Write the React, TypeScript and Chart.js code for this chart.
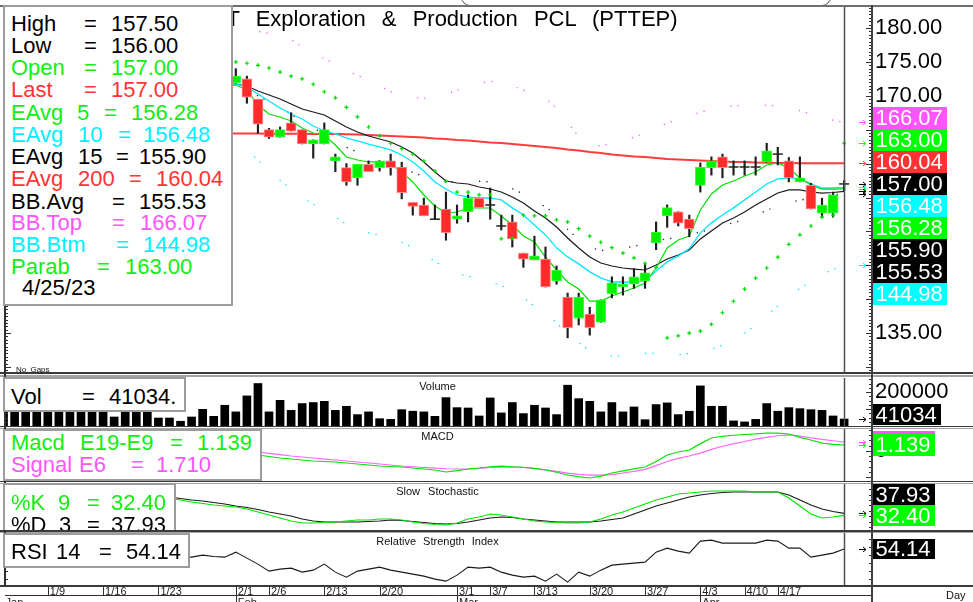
import React, { useEffect, useRef } from 'react';
import { Chart, registerables } from 'chart.js';

Chart.register(...registerables);

const FONT = '"Liberation Sans", Arial, Helvetica, sans-serif';
const GREEN = '#00ff00';
const RED = '#ff3333';
const CYAN = '#00ffff';
const MAGENTA = '#ff55ff';
const BLACK = '#000000';

// ---------------- data: trading days 1/3/23 .. 4/25/23 ----------------
const lastDate = '4/25/23';
const title = 'PTT Exploration & Production PCL (PTTEP)';

const open = [
  172.5, 174.0, 175.5, 176.5, 175.0, 176.0, 177.5, 176.0, 174.5, 175.0,
  173.5, 172.0, 173.0, 174.5, 173.0, 171.5, 172.0, 170.5, 171.0, 172.5,
  171.0,
  171.9, 172.5, 169.5, 165.0, 163.9, 166.0, 165.0, 162.9, 162.9, 160.4,
  159.4, 157.9, 159.9, 159.4, 160.4, 159.5, 154.3, 153.9, 151.8, 153.3,
  151.8, 152.9, 154.9, 153.9, 150.8, 151.4, 146.8, 145.8, 145.9, 142.7,
  140.3, 137.2, 137.8, 136.6, 140.8, 141.8, 142.2, 142.7, 148.3, 152.3,
  152.9, 151.8, 156.8, 159.4, 161.0, 159.5, 159.5, 159.5, 160.2, 161.4,
  160.4, 157.3, 156.8, 152.7, 152.7, 157.0,
];
const high = [
  174.5, 176.0, 177.0, 177.0, 176.5, 178.0, 178.0, 176.5, 175.5, 175.5,
  174.0, 173.5, 175.0, 175.0, 173.5, 172.5, 172.5, 171.5, 173.0, 173.0,
  172.0,
  174.0, 172.9, 169.5, 165.2, 165.4, 167.5, 165.0, 163.5, 166.0, 161.4,
  160.0, 159.9, 160.4, 160.4, 161.4, 160.2, 154.3, 154.9, 153.9, 155.8,
  153.9, 155.4, 154.9, 156.4, 152.4, 152.4, 146.8, 149.3, 147.7, 144.9,
  140.9, 140.9, 138.8, 139.9, 143.3, 143.3, 144.5, 145.2, 151.4, 153.9,
  152.9, 152.4, 160.1, 161.0, 161.4, 160.4, 160.4, 161.0, 163.0, 162.4,
  160.9, 161.0, 157.1, 154.9, 155.8, 157.5,
];
const low = [
  172.0, 173.5, 175.0, 174.5, 174.5, 175.5, 175.5, 174.0, 174.0, 173.0,
  171.5, 171.5, 172.5, 172.5, 171.0, 171.0, 170.0, 170.0, 170.5, 170.5,
  170.5,
  171.9, 168.9, 164.5, 163.7, 163.9, 164.8, 162.9, 160.8, 162.9, 158.8,
  156.8, 156.8, 158.8, 158.9, 158.3, 154.8, 152.4, 152.3, 151.8, 148.7,
  151.2, 151.4, 153.5, 151.8, 150.2, 147.7, 144.7, 145.8, 141.8, 142.2,
  134.3, 136.2, 134.7, 136.6, 140.2, 140.6, 141.6, 141.6, 147.3, 150.6,
  150.8, 149.2, 155.8, 158.3, 157.9, 158.3, 158.3, 158.3, 160.2, 159.8,
  157.3, 157.3, 153.3, 152.1, 152.1, 156.0,
];
const close = [
  174.0, 175.5, 176.5, 175.0, 176.0, 177.5, 176.0, 174.5, 175.0, 173.5,
  172.0, 173.0, 174.5, 173.0, 171.5, 172.0, 170.5, 171.0, 172.5, 171.0,
  171.5,
  172.9, 169.8, 165.8, 163.9, 165.0, 164.8, 162.9, 163.5, 165.0, 161.0,
  157.3, 159.9, 158.8, 160.4, 159.4, 155.7, 153.7, 152.3, 151.8, 149.8,
  152.3, 154.9, 153.5, 153.9, 150.8, 148.9, 145.9, 146.4, 141.8, 144.3,
  135.8, 140.3, 135.8, 139.9, 142.4, 142.2, 143.3, 143.9, 149.9, 153.5,
  151.2, 150.4, 159.5, 160.4, 159.4, 159.5, 159.5, 159.5, 161.9, 161.4,
  157.9, 157.9, 153.3, 153.9, 155.4, 157.0,
];
const volume = [
  110000, 95000, 100000, 105000, 98000, 102000, 108000, 96000, 100000, 90000,
  53000, 92000, 88000, 85000, 47000, 47000, 28000, 53000, 98000, 57000,
  122000,
  83000, 177000, 250000, 83000, 151000, 92000, 132000, 138000, 145000, 92000,
  116000, 67000, 83000, 43000, 39000, 96000, 87000, 83000, 57000, 167000,
  108000, 106000, 59000, 165000, 77000, 138000, 73000, 122000, 106000, 67000,
  240000, 161000, 145000, 83000, 138000, 83000, 112000, 37000, 126000, 136000,
  67000, 87000, 236000, 116000, 116000, 30000, 24000, 39000, 132000, 87000,
  108000, 102000, 96000, 92000, 59000, 41034,
];
const ema5 = [
  null, null, null, null, null, null, null, null, null, null,
  null, null, null, null, null, null, null, null, null, null,
  171.4,
  171.59, 170.86, 168.64, 167.32, 166.87, 166.28, 165.25, 164.51, 164.22, 162.74,
  160.97, 160.53, 160.24, 160.24, 159.94, 158.76, 157.29, 155.37, 153.75, 152.71,
  152.86, 153.45, 153.45, 153.45, 152.27, 150.94, 149.32, 148.44, 146.22, 144.31,
  142.54, 141.5, 139.73, 139.73, 140.47, 141.06, 141.65, 142.39, 144.6, 147.55,
  148.73, 149.32, 153.16, 155.52, 156.84, 157.43, 158.17, 158.76, 159.79, 160.09,
  159.35, 157.88, 156.84, 156.25, 156.25, 156.28,
];
const ema10 = [
  null, null, null, null, null, null, null, null, null, null,
  null, null, null, null, null, null, null, null, null, null,
  171.9,
  171.74, 171.3, 170.27, 169.23, 168.2, 167.32, 166.58, 165.55, 164.81, 164.37,
  163.78, 163.34, 162.89, 162.45, 162.01, 161.27, 160.24, 158.91, 157.29, 156.25,
  155.37, 155.08, 154.93, 154.93, 154.65, 153.47, 152.43, 150.96, 149.48, 147.57,
  146.24, 145.21, 144.03, 143.14, 142.54, 142.54, 142.54, 142.69, 144.17, 145.5,
  146.39, 147.42, 149.79, 151.26, 152.43, 153.47, 154.65, 155.81, 157.0, 157.74,
  157.89, 157.74, 157.0, 156.4, 156.4, 156.48,
];
const ema15 = [
  null, null, null, null, null, null, null, null, null, null,
  null, null, null, null, null, null, null, null, null, null,
  171.9,
  171.74, 171.45, 170.71, 170.12, 169.53, 168.79, 168.05, 167.61, 167.17, 166.28,
  165.4, 164.66, 164.07, 163.63, 163.19, 162.45, 161.56, 160.24, 158.76, 157.43,
  157.14, 156.99, 156.55, 156.25, 155.81, 155.07, 154.19, 153.01, 151.98, 150.65,
  149.03, 147.55, 146.22, 145.34, 144.9, 144.6, 144.45, 144.31, 145.04, 145.93,
  146.52, 147.26, 148.89, 150.06, 151.24, 151.98, 152.86, 153.89, 154.78, 155.66,
  156.11, 156.11, 155.81, 155.66, 155.74, 155.9,
];
const ema200 = [
  null, null, null, null, null, null, null, null, null, null,
  null, null, null, null, null, null, null, null, null, null,
  164.46,
  164.45, 164.44, 164.43, 164.42, 164.41, 164.4, 164.39, 164.38, 164.37, 164.35,
  164.32, 164.29, 164.22, 164.14, 164.07, 164.0, 163.92, 163.85, 163.7, 163.63,
  163.48, 163.41, 163.26, 163.11, 163.04, 162.89, 162.74, 162.6, 162.45, 162.3,
  162.08, 161.93, 161.71, 161.56, 161.34, 161.19, 161.04, 160.97, 160.83, 160.68,
  160.6, 160.53, 160.46, 160.38, 160.31, 160.24, 160.22, 160.16, 160.14, 160.09,
  160.08, 160.07, 160.06, 160.05, 160.04, 160.04,
];
const bbTop = [
  null, null, null, null, null, null, null, null, null, null,
  null, null, null, null, null, null, null, null, null, null,
  180.0,
  180.0, 179.8, 179.5, 179.2, 179.0, 178.3, 177.2, 176.3, 175.5, 174.6,
  173.8, 173.0, 172.3, 171.5, 170.6, 170.0, 169.8, 169.6, 169.8, 170.2,
  170.8, 171.3, 171.8, 172.1, 172.3, 171.5, 170.8, 170.2, 169.6, 168.2,
  166.0, 164.0, 162.8, 162.6, 163.0, 163.4, 163.9, 164.5, 165.2, 166.0,
  166.5, 167.0, 167.6, 168.0, 168.3, 168.5, 168.6, 168.6, 168.6, 168.5,
  168.2, 167.8, 167.3, 166.8, 166.4, 166.07,
];
const bbAvg = [
  null, null, null, null, null, null, null, null, null, null,
  null, null, null, null, null, null, null, null, null, null,
  171.8,
  171.5, 170.9, 170.0, 169.1, 168.3, 167.3, 166.1, 165.2, 164.4, 163.4,
  162.4, 161.7, 161.0, 160.4, 159.8, 159.2, 158.7, 158.1, 157.7, 157.3,
  157.3, 157.3, 157.4, 157.3, 157.1, 156.3, 155.5, 154.6, 153.6, 152.4,
  150.3, 148.8, 147.6, 147.2, 147.3, 147.5, 147.8, 148.2, 148.6, 148.9,
  149.1, 149.5, 149.9, 150.3, 150.8, 151.3, 151.8, 152.4, 153.1, 153.8,
  154.3, 154.6, 154.9, 155.2, 155.4, 155.53,
];
const bbBtm = [
  null, null, null, null, null, null, null, null, null, null,
  null, null, null, null, null, null, null, null, null, null,
  163.6,
  163.0, 162.0, 160.5, 159.0, 157.5, 156.3, 155.0, 154.0, 153.2, 152.2,
  151.0, 150.4, 149.8, 149.4, 149.0, 148.4, 147.6, 146.6, 145.6, 144.5,
  143.8, 143.4, 143.0, 142.6, 142.0, 141.2, 140.2, 139.0, 137.6, 136.6,
  134.6, 133.6, 132.4, 131.8, 131.6, 131.6, 131.8, 132.0, 132.0, 131.8,
  131.8, 132.0, 132.2, 132.6, 133.2, 134.0, 135.0, 136.2, 137.6, 139.0,
  140.4, 141.6, 142.6, 143.6, 144.4, 144.98,
];
const sar = [
  null, null, null, null, null, null, null, null, null, null,
  null, null, null, null, null, null, null, null, null, null,
  null,
  175.0, 174.8, 174.5, 174.1, 173.5, 172.9, 172.5, 171.7, 170.6, 169.7,
  168.3, 166.9, 165.4, 164.1, 163.0, 162.2, 161.4, 160.4, 158.9, 157.4,
  155.8, 155.8, 155.4, 155.4, 148.9, 149.0, 152.4, 152.3, 152.3, 151.7,
  151.4, 150.4, 149.3, 148.4, 147.6, 146.8, 146.1, 145.3, 144.7, 134.3,
  134.6, 135.0, 135.3, 136.3, 138.0, 139.7, 141.5, 143.1, 144.6, 146.2,
  148.1, 149.5, 150.8, 152.1, 152.4, 163.0,
];
const macd = [
  null, null, null, null, null, null, null, null, null, null,
  null, null, null, null, null, null, null, null, null, null,
  0.4, 0.0,
  -0.39, -0.77, -1.05, -1.34, -1.53, -1.72, -1.91, -2.0, -2.1,
  -2.29, -2.48, -2.67, -2.86, -2.96, -3.05, -3.24, -3.43, -3.62, -4.0,
  -3.75, -3.43, -3.24, -3.0, -2.9, -3.0, -3.1, -3.3, -3.62, -4.05,
  -4.58, -4.9, -5.15, -4.8, -4.2, -3.8, -3.4, -3.05, -2.0, -0.77,
  -0.2, 0.19, 1.4, 2.47, 2.8, 3.0, 3.14, 3.25, 3.42, 3.4,
  3.23, 2.6, 2.09, 1.5, 1.25, 1.139,
];
const signal = [
  null, null, null, null, null, null, null, null, null, null,
  null, null, null, null, null, null, null, null, null, null,
  0.45, 0.25,
  0.0, -0.19, -0.45, -0.7, -0.96, -1.15, -1.34, -1.55, -1.72,
  -1.91, -2.1, -2.29, -2.48, -2.67, -2.86, -3.0, -3.15, -3.28, -3.38,
  -3.43, -3.4, -3.3, -3.15, -3.08, -3.05, -3.15, -3.35, -3.6, -3.9,
  -4.2, -4.45, -4.58, -4.6, -4.5, -4.2, -3.9, -3.5, -2.8, -2.0,
  -1.4, -0.95, -0.4, 0.3, 0.9, 1.35, 1.8, 2.25, 2.6, 2.9,
  3.05, 2.85, 2.5, 2.2, 1.95, 1.71,
];
const stochK = [
  null, null, null, null, null, null, null, null, null, null,
  null, null, null, null,
  84.0, 80.6, 75.0, 69.4, 65.3, 61.1, 58.3,
  55.6, 50.0, 41.7, 33.3, 25.0, 16.7, 11.1, 11.1, 12.5, 13.9,
  16.7, 19.4, 19.4, 22.2, 22.2, 19.4, 13.9, 9.7, 6.9, 5.6,
  11.1, 22.2, 27.8, 36.1, 33.3, 27.8, 22.2, 16.7, 13.9, 12.5,
  11.1, 11.1, 13.9, 22.2, 33.3, 41.7, 52.8, 63.9, 75.0, 83.3,
  91.7, 94.4, 97.2, 100.0, 100.0, 100.0, 100.0, 97.2, 97.2, 97.2,
  80.6, 58.3, 36.1, 25.0, 27.8, 32.4,
];
const stochD = [
  null, null, null, null, null, null, null, null, null, null,
  null, null, null, null,
  86.0, 83.3, 79.2, 75.0, 72.2, 68.1, 63.9,
  58.3, 54.2, 48.6, 41.7, 36.1, 30.6, 22.2, 16.7, 13.9, 13.9,
  13.9, 13.9, 15.3, 16.7, 19.4, 18.1, 15.3, 12.5, 9.7, 8.3,
  9.7, 13.9, 19.4, 25.0, 27.8, 26.4, 22.2, 19.4, 16.7, 13.9,
  13.9, 13.9, 13.9, 16.7, 20.8, 25.0, 36.1, 47.2, 58.3, 66.7,
  75.0, 83.3, 88.9, 93.1, 95.8, 97.2, 97.2, 97.2, 97.2, 97.2,
  88.9, 75.0, 61.1, 50.0, 43.1, 37.93,
];
const rsi = [
  null, null, null, null, null, null, null, null, null, null,
  null, null, null, null, null,
  46.0, 46.0, 46.0, 48.0, 46.6, 46.0,
  51.0, 45.0, 39.0, 32.0, 34.0, 35.0, 31.0, 33.0, 39.0, 31.0,
  26.0, 32.0, 34.0, 36.0, 33.0, 31.0, 29.0, 27.0, 24.0, 22.0,
  28.0, 36.0, 35.0, 36.0, 31.0, 28.0, 26.0, 27.0, 22.0, 29.0,
  21.0, 31.0, 27.0, 33.0, 38.0, 39.0, 40.0, 41.0, 51.0, 55.0,
  52.0, 50.0, 62.0, 63.0, 60.0, 60.0, 60.0, 60.0, 63.0, 62.0,
  55.0, 55.0, 46.0, 48.0, 50.0, 54.14,
];

// tick labels
const priceTicks = [135, 140, 145, 150, 155, 160, 165, 170, 175, 180];
const volTicks = [200000];
const macdTicks = [0];
const stochTicks = [50];
const rsiTicks = [50];
const dateTickIdx = [4, 9, 14, 21, 24, 29, 34, 41, 44, 48, 53, 58, 63, 67, 70];
const dateTickLabels = ['1/9', '1/16', '1/23', '2/1', '2/6', '2/13', '2/20', '3/1', '3/7', '3/13', '3/20', '3/27', '4/3', '4/10', '4/17'];
const monthIdx = [0, 21, 41, 63];
const monthLabels = ['Jan', 'Feb', 'Mar', 'Apr'];

// ---------------- layout constants ----------------
const L = close.length - 1;
const X_MIN = 0.13;
const X_MAX = 78.52;
const W = 973;

const idx = close.map((_, i) => i);
const pts = (arr: (number | null)[]) => arr.map((v, i) => ({ x: i, y: v }));

type Box = { v: number; text: string; bg: string; anchor?: boolean };
type Decor = {
  today: number;
  minorStep?: number;
  majorStep?: number;
  boxes?: Box[];
  boxH?: number;
  stack?: boolean;
  dateAxis?: boolean;
};

function makeDecor(cfg: Decor) {
  return {
    id: 'decor',
    afterDraw(chart: any) {
      const { ctx, chartArea: ca, scales } = chart;
      const xs = scales.x;
      const ys = scales.y;
      ctx.save();
      if (cfg.minorStep) {
        const st = cfg.minorStep;
        const first = Math.ceil(ys.min / st);
        const last = Math.floor(ys.max / st);
        ctx.strokeStyle = '#303030';
        ctx.lineWidth = 1;
        ctx.beginPath();
        for (let k = first; k <= last; k++) {
          const v = k * st;
          const py = Math.round(ys.getPixelForValue(v)) + 0.5;
          const major = cfg.majorStep ? Math.abs(v / cfg.majorStep - Math.round(v / cfg.majorStep)) < 1e-6 : false;
          const len = major ? 6 : 3;
          ctx.moveTo(ca.right - len, py);
          ctx.lineTo(ca.right, py);
          ctx.moveTo(ca.left, py);
          ctx.lineTo(ca.left + len, py);
        }
        ctx.stroke();
      }
      const tx = Math.round(xs.getPixelForValue(cfg.today)) + 0.5;
      ctx.strokeStyle = '#505050';
      ctx.lineWidth = 1.5;
      ctx.beginPath();
      ctx.moveTo(tx, ca.top);
      ctx.lineTo(tx, ca.bottom);
      ctx.stroke();
      if (cfg.dateAxis) {
        const yb = ca.bottom;
        ctx.strokeStyle = '#303030';
        ctx.lineWidth = 1;
        ctx.beginPath();
        ctx.moveTo(ca.left, yb + 10.5);
        ctx.lineTo(ca.right, yb + 10.5);
        const all = Array.from(new Set([...dateTickIdx, ...monthIdx]));
        for (const i of all) {
          if (i < X_MIN) continue;
          const px = Math.round(xs.getPixelForValue(i)) + 0.5;
          const long = monthIdx.includes(i);
          ctx.moveTo(px, yb);
          ctx.lineTo(px, yb + (long ? 18 : 11));
        }
        ctx.stroke();
      }
      if (cfg.boxes && cfg.boxes.length) {
        const h = cfg.boxH || 21;
        const lo = ca.top + h / 2;
        const hi = ca.bottom - h / 2 - 1;
        let items = cfg.boxes.map((b) => ({ ...b, ideal: ys.getPixelForValue(b.v), y: 0 }));
        if (cfg.stack) {
          items = items.slice().sort((a, b) => b.v - a.v);
          let ai = items.findIndex((b) => b.anchor);
          if (ai < 0) ai = 0;
          items[ai].y = Math.min(Math.max(items[ai].ideal, lo), hi);
          for (let i = ai - 1; i >= 0; i--) items[i].y = Math.min(items[i].ideal, items[i + 1].y - h);
          for (let i = ai + 1; i < items.length; i++) items[i].y = Math.max(items[i].ideal, items[i - 1].y + h);
        } else {
          items.forEach((b) => (b.y = Math.min(Math.max(b.ideal, lo), hi)));
        }
        ctx.lineWidth = 1;
        for (const b of items) {
          const ay = Math.round(b.ideal) + 0.5;
          ctx.strokeStyle = b.bg;
          ctx.beginPath();
          ctx.moveTo(ca.right - 13, ay);
          ctx.lineTo(ca.right - 6, ay);
          ctx.moveTo(ca.right - 9, ay - 2.5);
          ctx.lineTo(ca.right - 6, ay);
          ctx.lineTo(ca.right - 9, ay + 2.5);
          ctx.stroke();
        }
        ctx.font = `22px ${FONT}`;
        ctx.textBaseline = 'middle';
        ctx.textAlign = 'left';
        for (const b of items) {
          const tw = ctx.measureText(b.text).width;
          const top = Math.round(b.y - h / 2);
          ctx.fillStyle = b.bg;
          ctx.fillRect(ca.right + 1, top, Math.ceil(tw + 6), h);
          ctx.fillStyle = '#ffffff';
          ctx.fillText(b.text, ca.right + 3.5, top + h / 2 + 1);
        }
      }
      ctx.restore();
    },
  };
}

function baseOptions(yMin: number, yMax: number, yTicks: number[], fmt: (v: number) => string, withDates = false) {
  const xScale: any = withDates
    ? {
        type: 'linear',
        min: X_MIN,
        max: X_MAX,
        offset: false,
        position: 'bottom',
        display: true,
        afterBuildTicks: (s: any) => {
          s.ticks = Array.from(new Set([...monthIdx, ...dateTickIdx])).sort((a, b) => a - b).map((v) => ({ value: v }));
        },
        afterFit: (s: any) => {
          s.height = 17;
          s.paddingLeft = 0;
          s.paddingRight = 0;
        },
        grid: { display: false, drawTicks: false },
        border: { display: false },
        ticks: {
          autoSkip: false,
          maxRotation: 0,
          minRotation: 0,
          align: 'start',
          labelOffset: 2,
          padding: 1,
          color: '#222',
          font: { family: FONT, size: 11, lineHeight: 1 },
          callback: (v: any) => {
            const i = Math.round(Number(v));
            const d = dateTickIdx.indexOf(i);
            const m = monthIdx.indexOf(i);
            return [d >= 0 ? dateTickLabels[d] : '', m >= 0 ? monthLabels[m] : ''];
          },
        },
      }
    : { type: 'linear', min: X_MIN, max: X_MAX, offset: false, display: false };
  return {
    responsive: false,
    animation: false,
    devicePixelRatio: 1,
    events: [],
    layout: { autoPadding: false, padding: { left: 5, right: 0, top: 0, bottom: 0 } },
    plugins: { legend: { display: false }, tooltip: { enabled: false } },
    elements: { point: { radius: 0 }, line: { tension: 0 } },
    scales: {
      x: xScale,
      y: {
        type: 'linear',
        position: 'right',
        min: yMin,
        max: yMax,
        afterBuildTicks: (s: any) => {
          s.ticks = yTicks.map((v) => ({ value: v }));
        },
        afterFit: (s: any) => {
          s.width = W - 872;
          s.paddingTop = 0;
          s.paddingBottom = 0;
        },
        grid: { display: false, drawTicks: false },
        border: { display: false },
        ticks: {
          autoSkip: false,
          padding: 3,
          color: '#000',
          font: { family: FONT, size: 22 },
          callback: (v: any) => fmt(Number(v)),
        },
      },
    },
  };
}

const line = (label: string, data: (number | null)[], color: string, width: number, order: number, extra: any = {}) => ({
  type: 'line',
  label,
  data: pts(data),
  borderColor: color,
  backgroundColor: color,
  borderWidth: width,
  pointRadius: 0,
  fill: false,
  spanGaps: false,
  order,
  ...extra,
});

function mainConfig(): any {
  const isDoji = close.map((c, i) => c === open[i]);
  const bodyBg = close.map((c, i) => (c > open[i] ? '#00f000' : '#ff2b2b'));
  const bodyBorder = close.map((c, i) => (c > open[i] ? '#3cff3c' : '#ff8c8c'));
  const boxes: Box[] = [
    { v: bbTop[L] as number, bg: MAGENTA, text: '' },
    { v: sar[L] as number, bg: GREEN, text: '' },
    { v: ema200[L] as number, bg: RED, text: '' },
    { v: close[L], bg: BLACK, text: '', anchor: true },
    { v: ema10[L] as number, bg: CYAN, text: '' },
    { v: ema5[L] as number, bg: GREEN, text: '' },
    { v: ema15[L] as number, bg: BLACK, text: '' },
    { v: bbAvg[L] as number, bg: BLACK, text: '' },
    { v: bbBtm[L] as number, bg: CYAN, text: '' },
  ].map((b) => ({ ...b, text: b.v.toFixed(2) }));
  return {
    type: 'line',
    data: {
      datasets: [
        {
          type: 'line',
          label: 'Parab',
          data: pts(sar),
          showLine: false,
          pointStyle: 'cross',
          pointRadius: 2,
          pointBorderWidth: 1.2,
          pointBorderColor: '#00dd00',
          borderColor: '#00dd00',
          order: 0,
        },
        {
          type: 'line',
          label: 'Cross',
          data: idx.map((i) => ({ x: i, y: isDoji[i] ? close[i] : null })),
          showLine: false,
          pointStyle: 'line',
          pointRadius: 5,
          pointBorderWidth: 1.5,
          pointBorderColor: '#222',
          borderColor: '#222',
          order: 1,
        },
        {
          type: 'bar',
          label: 'Body',
          data: idx.map((i) => ({ x: i, y: isDoji[i] ? null : [open[i], close[i]] })),
          backgroundColor: bodyBg,
          borderColor: bodyBorder,
          borderWidth: 1,
          borderSkipped: false,
          barThickness: 10,
          grouped: false,
          order: 2,
        },
        {
          type: 'bar',
          label: 'Wick',
          data: idx.map((i) => ({ x: i, y: [low[i], high[i]] })),
          backgroundColor: '#1e1e1e',
          barThickness: 1.5,
          grouped: false,
          order: 3,
        },
        line('EAvg 5', ema5, '#00e000', 1.2, 5),
        line('EAvg 10', ema10, '#00e8ff', 1.3, 6),
        line('EAvg 15', ema15, '#1a1a1a', 1.2, 7),
        line('EAvg 200', ema200, '#ff3b3b', 2, 8),
        line('BB.Top', bbTop, '#ff55ff', 1.3, 9, { borderDash: [1.3, 6, 1.3, 26] }),
        line('BB.Avg', bbAvg, '#222222', 1.3, 10, { borderDash: [1.3, 6, 1.3, 26] }),
        line('BB.Btm', bbBtm, '#00e0ff', 1.3, 11, { borderDash: [1.3, 6, 1.3, 26] }),
      ],
    },
    options: baseOptions(129.263, 183.097, priceTicks, (v) => v.toFixed(2)),
    plugins: [makeDecor({ today: L, minorStep: 0.5, majorStep: 5, boxes, boxH: 22, stack: true })],
  };
}

function volConfig(): any {
  return {
    type: 'line',
    data: {
      datasets: [
        {
          type: 'bar',
          label: 'Volume',
          data: idx.map((i) => ({ x: i, y: volume[i] })),
          backgroundColor: '#000',
          barThickness: 8,
          grouped: false,
        },
      ],
    },
    options: baseOptions(0, 282353, volTicks, (v) => String(v)),
    plugins: [
      makeDecor({
        today: L,
        minorStep: 25000,
        majorStep: 100000,
        boxes: [{ v: volume[L], text: String(volume[L]), bg: BLACK, anchor: true }],
        boxH: 21,
        stack: true,
      }),
    ],
  };
}

function macdConfig(): any {
  return {
    type: 'line',
    data: {
      datasets: [
        line('Macd E19-E9', macd, '#00e600', 1.2, 0),
        line('Signal E6', signal, '#ff66ff', 1.2, 1),
      ],
    },
    options: baseOptions(-5.718, 4.187, macdTicks, (v) => String(v)),
    plugins: [
      makeDecor({
        today: L,
        minorStep: 1,
        majorStep: 5,
        boxes: [
          { v: signal[L] as number, text: (signal[L] as number).toFixed(3), bg: MAGENTA },
          { v: macd[L] as number, text: (macd[L] as number).toFixed(3), bg: GREEN },
        ],
        boxH: 22,
        stack: false,
      }),
    ],
  };
}

function stochConfig(): any {
  return {
    type: 'line',
    data: {
      datasets: [
        line('%K 9', stochK, '#00e600', 1.2, 0),
        line('%D 3', stochD, '#1a1a1a', 1.2, 1),
      ],
    },
    options: baseOptions(-8.33, 119.44, stochTicks, (v) => String(v)),
    plugins: [
      makeDecor({
        today: L,
        minorStep: 15,
        majorStep: 0,
        boxes: [
          { v: stochD[L] as number, text: (stochD[L] as number).toFixed(2), bg: BLACK },
          { v: stochK[L] as number, text: (stochK[L] as number).toFixed(2), bg: GREEN, anchor: true },
        ],
        boxH: 21,
        stack: true,
      }),
    ],
  };
}

function rsiConfig(): any {
  return {
    type: 'line',
    data: { datasets: [line('RSI 14', rsi, '#1a1a1a', 1.1, 0)] },
    options: baseOptions(18.14, 70.14, rsiTicks, (v) => String(v), true),
    plugins: [
      makeDecor({
        today: L,
        minorStep: 8,
        majorStep: 0,
        boxes: [{ v: rsi[L] as number, text: (rsi[L] as number).toFixed(2), bg: BLACK, anchor: true }],
        boxH: 20,
        stack: true,
        dateAxis: true,
      }),
    ],
  };
}

// ---------------- overlay helpers ----------------
type Seg = [string, number];
type LLine = { cy: number; color: string; segs: Seg[] };

function LegendBox(props: { left: number; top: number; width: number; height: number; lines: LLine[]; noBottom?: boolean }) {
  const { left, top, width, height, lines, noBottom } = props;
  const bw = 2;
  return (
    <div
      style={{
        position: 'absolute',
        left,
        top,
        width,
        height,
        boxSizing: 'border-box',
        border: `${bw}px solid #9c9c9c`,
        borderBottom: noBottom ? 'none' : `${bw}px solid #9c9c9c`,
        background: '#fff',
        overflow: 'hidden',
        zIndex: 3,
      }}
    >
      {lines.map((ln, k) =>
        ln.segs.map(([t, x], j) => (
          <span
            key={k + '-' + j}
            style={{
              position: 'absolute',
              left: x - 1 - left - bw,
              top: ln.cy - 11 - top - bw,
              fontSize: 22,
              lineHeight: '22px',
              whiteSpace: 'pre',
              color: ln.color,
              fontFamily: FONT,
            }}
          >
            {t}
          </span>
        ))
      )}
    </div>
  );
}

const T_GREEN = '#11ee11';
const T_RED = '#ff3333';
const T_CYAN = '#00f0ff';
const T_MAG = '#ff55ff';
const T_BLK = '#000';
const f2 = (v: any) => Number(v).toFixed(2);
const f3 = (v: any) => Number(v).toFixed(3);

const mainLegend: LLine[] = [
  { cy: 24, color: T_BLK, segs: [['High', 12], ['=', 85], [f2(high[L]), 112]] },
  { cy: 46, color: T_BLK, segs: [['Low', 12], ['=', 85], [f2(low[L]), 112]] },
  { cy: 68, color: T_GREEN, segs: [['Open', 12], ['=', 85], [f2(open[L]), 112]] },
  { cy: 90, color: T_RED, segs: [['Last', 12], ['=', 85], [f2(close[L]), 112]] },
  { cy: 113, color: T_GREEN, segs: [['EAvg', 12], ['5', 78], ['=', 105], [f2(ema5[L]), 132]] },
  { cy: 135, color: T_CYAN, segs: [['EAvg', 12], ['10', 79], ['=', 119], [f2(ema10[L]), 144]] },
  { cy: 157, color: T_BLK, segs: [['EAvg', 12], ['15', 79], ['=', 117], [f2(ema15[L]), 140]] },
  { cy: 179, color: T_RED, segs: [['EAvg', 12], ['200', 79], ['=', 130], [f2(ema200[L]), 157]] },
  { cy: 202, color: T_BLK, segs: [['BB.Avg', 12], ['=', 113], [f2(bbAvg[L]), 140]] },
  { cy: 223, color: T_MAG, segs: [['BB.Top', 12], ['=', 113], [f2(bbTop[L]), 141]] },
  { cy: 245, color: T_CYAN, segs: [['BB.Btm', 12], ['=', 117], [f2(bbBtm[L]), 144]] },
  { cy: 267, color: T_GREEN, segs: [['Parab', 12], ['=', 98], [f2(sar[L]), 126]] },
  { cy: 288, color: T_BLK, segs: [[lastDate, 23]] },
];
const volLegend: LLine[] = [{ cy: 397, color: T_BLK, segs: [['Vol', 12], ['=', 83], [`${volume[L]}.`, 110]] }];
const macdLegend: LLine[] = [
  { cy: 443, color: T_GREEN, segs: [['Macd', 12], ['E19-E9', 81], ['=', 171], [f3(macd[L]), 198]] },
  { cy: 465, color: T_MAG, segs: [['Signal', 12], ['E6', 80], ['=', 132], [f3(signal[L]), 157]] },
];
const stochLegend: LLine[] = [
  { cy: 503, color: T_GREEN, segs: [['%K', 12], ['9', 59], ['=', 88], [f2(stochK[L]), 112]] },
  { cy: 525, color: T_BLK, segs: [['%D', 12], ['3', 60], ['=', 88], [f2(stochD[L]), 112]] },
];
const rsiLegend: LLine[] = [{ cy: 552, color: T_BLK, segs: [['RSI', 12], ['14', 57], ['=', 100], [f2(rsi[L]), 127]] }];

function SmallText(props: { text: string; cy: number; size?: number; left?: number; center?: boolean; ws?: number }) {
  const size = props.size || 11;
  const style: any = {
    position: 'absolute',
    top: props.cy - Math.round(size / 2),
    fontSize: size,
    lineHeight: `${size}px`,
    whiteSpace: 'pre',
    wordSpacing: props.ws || 0,
    color: '#111',
    fontFamily: FONT,
    zIndex: 2,
  };
  if (props.center) {
    style.left = 0;
    style.width = 875;
    style.textAlign = 'center';
  } else {
    style.left = props.left;
  }
  return <div style={style}>{props.text}</div>;
}

function HLine(props: { top: number; h: number; color: string }) {
  return <div style={{ position: 'absolute', left: 0, width: W, top: props.top, height: props.h, background: props.color, zIndex: 1 }} />;
}

export default function App() {
  const r1 = useRef<HTMLCanvasElement>(null);
  const r2 = useRef<HTMLCanvasElement>(null);
  const r3 = useRef<HTMLCanvasElement>(null);
  const r4 = useRef<HTMLCanvasElement>(null);
  const r5 = useRef<HTMLCanvasElement>(null);

  useEffect(() => {
    const charts = [
      new Chart(r1.current as HTMLCanvasElement, mainConfig()),
      new Chart(r2.current as HTMLCanvasElement, volConfig()),
      new Chart(r3.current as HTMLCanvasElement, macdConfig()),
      new Chart(r4.current as HTMLCanvasElement, stochConfig()),
      new Chart(r5.current as HTMLCanvasElement, rsiConfig()),
    ];
    return () => charts.forEach((c) => c.destroy());
  }, []);

  const cv = (ref: any, top: number, h: number) => (
    <canvas ref={ref} width={W} height={h} style={{ position: 'absolute', left: 0, top, width: W, height: h, zIndex: 0 }} />
  );

  const DARK = '#3a3a3a';
  const LIGHT = '#a4a4a4';

  return (
    <div
      style={{
        position: 'absolute',
        left: 0,
        top: 0,
        width: W,
        height: 602,
        background: '#fff',
        overflow: 'hidden',
        fontFamily: FONT,
      }}
    >
      {cv(r1, 7, 365)}
      {cv(r2, 378, 48)}
      {cv(r3, 429, 52)}
      {cv(r4, 484, 46)}
      {cv(r5, 533, 69)}

      <div
        style={{
          position: 'absolute',
          left: 461,
          top: -12,
          width: 370,
          height: 18,
          boxSizing: 'border-box',
          border: '1.5px solid #555',
          borderRadius: 9,
          zIndex: 0,
        }}
      />
      <HLine top={5} h={2} color="#707070" />
      <HLine top={372} h={2} color={DARK} />
      <HLine top={375} h={2} color={LIGHT} />
      <HLine top={426} h={1} color={DARK} />
      <HLine top={427.5} h={1.5} color={LIGHT} />
      <HLine top={481} h={1} color={DARK} />
      <HLine top={482.5} h={1.5} color={LIGHT} />
      <HLine top={530} h={1.5} color={DARK} />
      <HLine top={532} h={1} color={LIGHT} />
      <HLine top={585} h={1.5} color={DARK} />
      <div style={{ position: 'absolute', left: 4, top: 5, width: 2, height: 581, background: '#303030', zIndex: 1 }} />
      <div style={{ position: 'absolute', left: 871, top: 5, width: 1.5, height: 597, background: '#404040', zIndex: 1 }} />

      <div
        style={{
          position: 'absolute',
          left: 0,
          width: 876,
          top: 8,
          textAlign: 'center',
          fontSize: 22,
          lineHeight: '22px',
          whiteSpace: 'pre',
          wordSpacing: 10,
          color: '#000',
          fontFamily: FONT,
          zIndex: 2,
        }}
      >
        {title}
      </div>
      <SmallText text="No Gaps" cy={370} size={8} left={16} ws={2} />
      <SmallText text="Volume" cy={387} center />
      <SmallText text="MACD" cy={437} center />
      <SmallText text="Slow Stochastic" cy={492} center ws={5} />
      <SmallText text="Relative Strength Index" cy={542} center ws={4} />
      <SmallText text="Day" cy={596} left={946} />

      <LegendBox left={3} top={5} width={230} height={301} lines={mainLegend} />
      <LegendBox left={3} top={377} width={183} height={35} lines={volLegend} />
      <LegendBox left={3} top={429} width={259} height={52} lines={macdLegend} />
      <LegendBox left={3} top={483} width={173} height={47} lines={stochLegend} noBottom />
      <LegendBox left={3} top={533} width={187} height={35} lines={rsiLegend} />
    </div>
  );
}
